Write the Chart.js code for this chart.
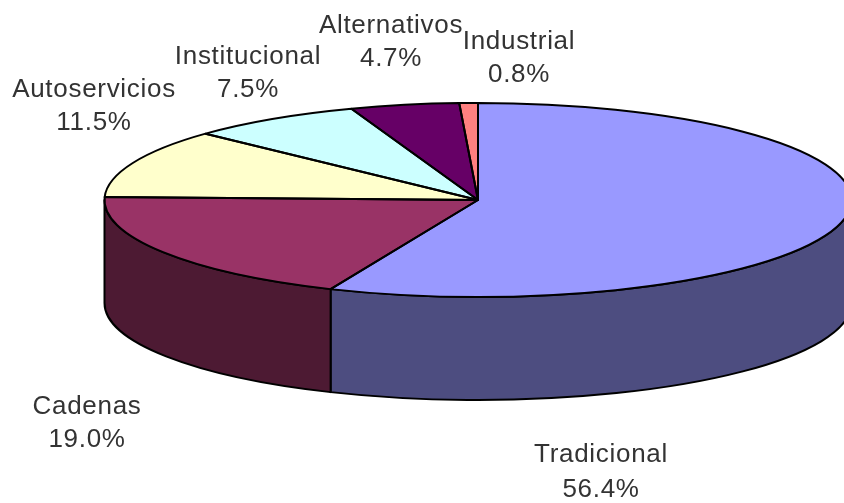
<!DOCTYPE html>
<html><head><meta charset="utf-8">
<style>html,body{margin:0;padding:0;background:#fff}canvas{display:block}</style>
<script src="https://cdn.jsdelivr.net/npm/chart.js@4"></script>
</head><body>
<canvas id="c" width="844" height="503"></canvas>
<script>
const categories = ['Tradicional','Cadenas','Autoservicios','Institucional','Alternativos','Industrial'];
const shares = [56.4,19.0,11.5,7.5,4.7,0.8];
const topColors = ['#9999FF','#993366','#FFFFCC','#CCFFFF','#660066','#FF8080'];
const sideColors = ['#4D4D80','#4D1A33','#80806A','#6A8080','#330033','#804040'];
const labelX = [601,87,94,248,391,519];
const labelY = [455,407,90,57,26,42];
const lineGap = [35,33,33,33,33,33];

const RX = 373.5, DEPTH = 103;

function ellipseRadii(arc){ return [RX, arc.outerRadius]; }

const pie3d = {
  id:'pie3d',
  beforeDatasetsDraw(chart){
    const ctx = chart.ctx, arcs = chart.getDatasetMeta(0).data;
    ctx.save();
    ctx.lineWidth = 2; ctx.strokeStyle = '#000'; ctx.lineJoin = 'round';
    arcs.forEach((arc,i)=>{
      const a1 = Math.max(arc.startAngle,0), a2 = Math.min(arc.endAngle,Math.PI);
      if (a2 <= a1) return;
      const [rx,ry] = ellipseRadii(arc);
      ctx.beginPath();
      ctx.ellipse(arc.x,arc.y,rx,ry,0,a1,a2);
      ctx.ellipse(arc.x,arc.y+DEPTH,rx,ry,0,a2,a1,true);
      ctx.closePath();
      ctx.fillStyle = sideColors[i];
      ctx.fill(); ctx.stroke();
    });
    ctx.restore();
    const a0 = arcs[0];
    ctx.save();
    ctx.translate(a0.x,0);
    ctx.scale(RX/a0.outerRadius,1);
    ctx.translate(-a0.x,0);
  },
  afterDatasetsDraw(chart){
    const ctx = chart.ctx, arcs = chart.getDatasetMeta(0).data;
    ctx.restore();
    ctx.save();
    ctx.lineWidth = 2; ctx.strokeStyle = '#000'; ctx.lineJoin = 'round';
    arcs.forEach(arc=>{
      const [rx,ry] = ellipseRadii(arc);
      ctx.beginPath();
      ctx.moveTo(arc.x,arc.y);
      ctx.ellipse(arc.x,arc.y,rx,ry,0,arc.startAngle,arc.endAngle);
      ctx.closePath();
      ctx.stroke();
    });
    ctx.font = '26px "Liberation Sans", Arial, sans-serif';
    ctx.letterSpacing = '0.7px';
    ctx.fillStyle = '#333';
    ctx.textAlign = 'center';
    ctx.textBaseline = 'middle';
    categories.forEach((name,i)=>{
      ctx.fillText(name,labelX[i],labelY[i]);
      ctx.fillText(shares[i].toFixed(1)+'%',labelX[i],labelY[i]+lineGap[i]);
    });
    ctx.restore();
  }
};

new Chart(document.getElementById('c'),{
  type:'pie',
  data:{labels:categories,datasets:[{data:shares,backgroundColor:topColors,borderWidth:0,hoverOffset:0,clip:false}]},
  options:{
    responsive:false,animation:false,events:[],rotation:0,
    layout:{padding:{top:103,bottom:206,left:112,right:0}},
    plugins:{legend:{display:false},tooltip:{enabled:false},title:{display:false}}
  },
  plugins:[pie3d]
});
</script>
</body></html>
